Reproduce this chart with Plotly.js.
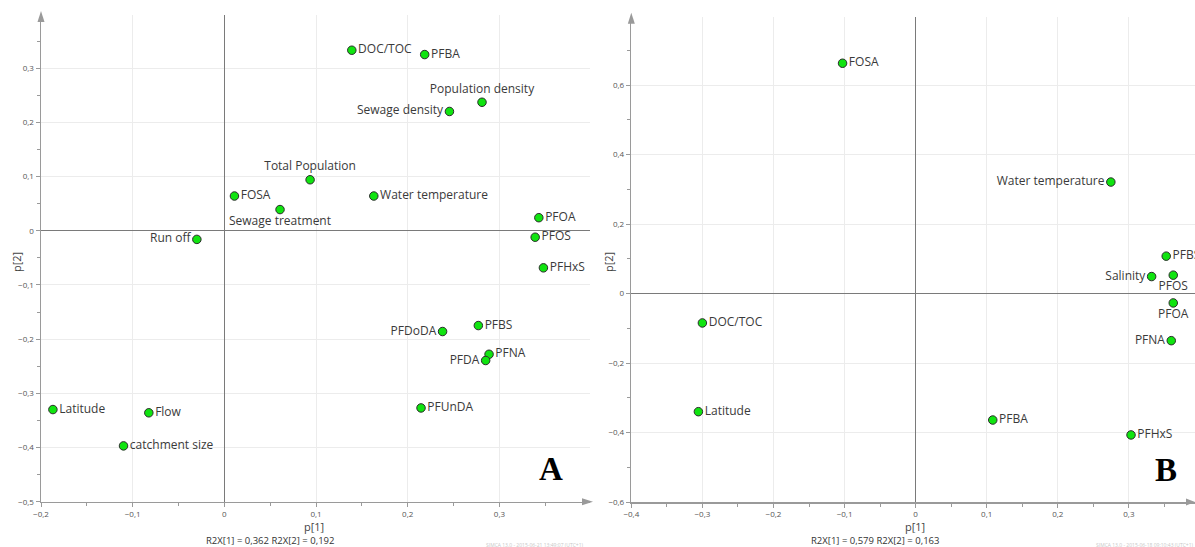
<!DOCTYPE html>
<html>
<head>
<meta charset="utf-8">
<script src="https://cdn.plot.ly/plotly-3.0.1.min.js"></script>
<style>html,body{margin:0;padding:0;background:#fff;}#chart{width:1195px;height:547px;}</style>
</head>
<body>
<div id="chart"></div>
<script>
// ---- Panel A data ----
const namesA = ["DOC/TOC","PFBA","Population density","Sewage density","Total Population","Water temperature","FOSA","Sewage treatment","Run off","PFOA","PFOS","PFHxS","PFBS","PFDoDA","PFNA","PFDA","PFUnDA","Latitude","Flow","catchment size"];
const p1A = [0.139,0.2185,0.281,0.2455,0.0935,0.163,0.011,0.0607,-0.030,0.343,0.339,0.348,0.277,0.238,0.2887,0.285,0.2145,-0.187,-0.0824,-0.110];
const p2A = [0.333,0.325,0.237,0.220,0.094,0.064,0.064,0.039,-0.016,0.024,-0.012,-0.0685,-0.175,-0.186,-0.228,-0.2395,-0.327,-0.330,-0.336,-0.397];
const posA = ["middle right","middle right","top center","middle left","top center","middle right","middle right","bottom center","middle left","middle right","middle right","middle right","middle right","middle left","middle right","middle left","middle right","middle right","middle right","middle right"];

// ---- Panel B data ----
const namesB = ["FOSA","Water temperature","PFBS","Salinity","PFOS","PFOA","PFNA","PFBA","PFHxS","DOC/TOC","Latitude"];
const p1B = [-0.1028,0.2746,0.3525,0.332,0.3624,0.3624,0.3596,0.1085,0.303,-0.300,-0.3056];
const p2B = [0.663,0.321,0.1077,0.049,0.053,-0.027,-0.1356,-0.364,-0.407,-0.0846,-0.340];
const posB = ["middle right","middle left","middle right","middle left","bottom center","bottom center","middle left","middle right","middle right","middle right","middle right"];

const W = 1195, H = 547;
const px = v => v / W;
const py = v => (H - v) / H;

const markerStyle = {color:'#10e410', size:8.5, line:{color:'#2b2b2b', width:1}};
const textStyle = {family:'Open Sans, Noto Sans, sans-serif', size:12, color:'#3a3a3a'};

const traces = [
  {x:p1A, y:p2A, text:namesA, textposition:posA, mode:'markers+text', type:'scatter',
   marker:markerStyle, textfont:textStyle, xaxis:'x', yaxis:'y', cliponaxis:false, hoverinfo:'text'},
  {x:p1B, y:p2B, text:namesB, textposition:posB, mode:'markers+text', type:'scatter',
   marker:markerStyle, textfont:textStyle, xaxis:'x2', yaxis:'y2', cliponaxis:false, hoverinfo:'text'}
];

const tickFont = {family:'Open Sans, Noto Sans, sans-serif', size:8, color:'#555'};
function axis(extra){
  return Object.assign({
    showline:true, linecolor:'#9a9a9a', linewidth:1.5,
    showgrid:true, gridcolor:'#ececec', gridwidth:1,
    zeroline:true, zerolinecolor:'#7a7a7a', zerolinewidth:1.5,
    ticks:'outside', ticklen:4, tickcolor:'#9a9a9a', tickwidth:1,
    tickfont:tickFont, fixedrange:true
  }, extra);
}
const minorOf = d => ({dtick:d, ticklen:3, tickcolor:'#9a9a9a', ticks:'outside', showgrid:false});

function label(text, x, y, size, color, family, angle){
  return {text:text, xref:'paper', yref:'paper', x:px(x), y:py(y), xanchor:'center', yanchor:'middle',
    textangle:angle||0, showarrow:false, font:{family:family||'Open Sans, Noto Sans, sans-serif', size:size, color:color}};
}

const layout = {
  width:W, height:H,
  margin:{l:0,r:0,t:0,b:0},
  paper_bgcolor:'#fff', plot_bgcolor:'#fff',
  showlegend:false,
  separators:', ',
  xaxis: axis({domain:[px(41), px(590)], range:[-0.2, 0.3988], dtick:0.1, tick0:0, anchor:'y', minor:minorOf(0.05)}),
  yaxis: axis({domain:[py(501.7), py(15)], range:[-0.5, 0.398], dtick:0.1, tick0:0, anchor:'x', minor:minorOf(0.05)}),
  xaxis2: axis({domain:[px(631.3), 1], range:[-0.4, 0.393], dtick:0.1, tick0:0, anchor:'y2', minor:minorOf(0.05)}),
  yaxis2: axis({domain:[py(502), py(16.7)], range:[-0.6, 0.797], dtick:0.2, tick0:0, anchor:'x2', minor:minorOf(0.1)}),
  shapes: [
    {type:'path', xref:'paper', yref:'paper', fillcolor:'#9a9a9a', line:{width:0},
     path:`M ${px(41)} ${py(11)} L ${px(37.5)} ${py(22)} L ${px(44.5)} ${py(22)} Z`},
    {type:'path', xref:'paper', yref:'paper', fillcolor:'#9a9a9a', line:{width:0},
     path:`M ${px(593)} ${py(501.7)} L ${px(582)} ${py(498.2)} L ${px(582)} ${py(505.2)} Z`},
    {type:'path', xref:'paper', yref:'paper', fillcolor:'#9a9a9a', line:{width:0},
     path:`M ${px(631.3)} ${py(12.7)} L ${px(627.8)} ${py(23.7)} L ${px(634.8)} ${py(23.7)} Z`},
    {type:'path', xref:'paper', yref:'paper', fillcolor:'#9a9a9a', line:{width:0},
     path:`M ${px(1195)} ${py(502)} L ${px(1186)} ${py(498.5)} L ${px(1186)} ${py(505.5)} Z`}
  ],
  annotations: [
    label('p[2]', 16, 262, 11, '#444', null, -90),
    label('p[1]', 314, 526, 11, '#444'),
    label('R2X[1] = 0,362 R2X[2] = 0,192', 270, 540, 9.5, '#333'),
    label('SIMCA 13.0 - 2015-06-21 13:49:07 (UTC+1)', 535, 545, 5, '#c8c8c8'),
    label('<b>A</b>', 551, 469, 33, '#000', 'Liberation Serif, DejaVu Serif, serif'),
    label('p[2]', 608, 262, 11, '#444', null, -90),
    label('p[1]', 915, 526, 11, '#444'),
    label('R2X[1] = 0,579 R2X[2] = 0,163', 875, 540, 9.5, '#333'),
    label('SIMCA 13.0 - 2015-06-18 09:10:43 (UTC+1)', 1145, 545, 5, '#c8c8c8'),
    label('<b>B</b>', 1166, 470, 33, '#000', 'Liberation Serif, DejaVu Serif, serif')
  ]
};

Plotly.newPlot('chart', traces, layout, {staticPlot:true, displayModeBar:false});
</script>
</body>
</html>
